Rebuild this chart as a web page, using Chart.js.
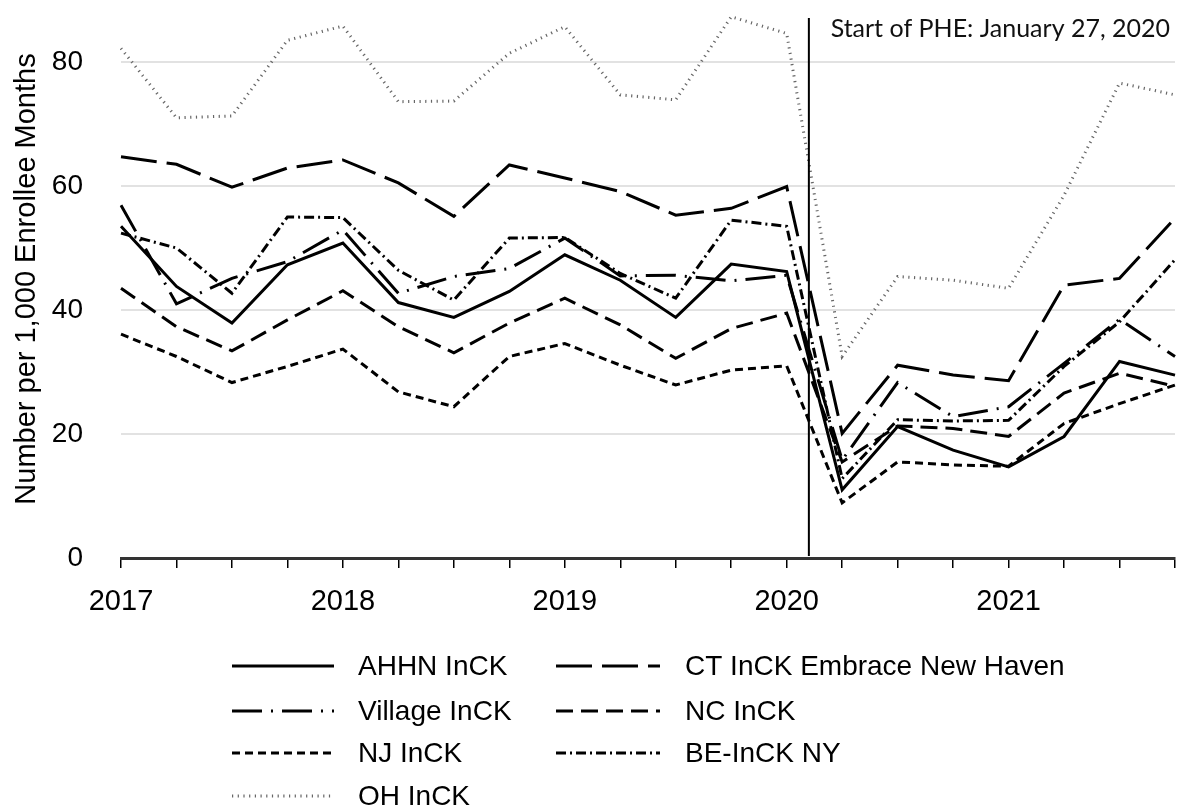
<!DOCTYPE html>
<html>
<head>
<meta charset="utf-8">
<script src="https://cdn.jsdelivr.net/npm/chart.js@4"></script>
<style>
  html, body { margin: 0; padding: 0; background: #fff; }
  #wrap { position: relative; width: 1177px; height: 809px; }
</style>
</head>
<body>
<div id="wrap"><canvas id="myChart" width="1177" height="809"></canvas></div>
<script>
// quarterly periods, 2017 Q1 .. 2021 Q4
const quarters = [
    "2017 Q1", "2017 Q2", "2017 Q3", "2017 Q4",
    "2018 Q1", "2018 Q2", "2018 Q3", "2018 Q4",
    "2019 Q1", "2019 Q2", "2019 Q3", "2019 Q4",
    "2020 Q1", "2020 Q2", "2020 Q3", "2020 Q4",
    "2021 Q1", "2021 Q2", "2021 Q3", "2021 Q4"
];

const ahhn    = [53.5, 43.8, 37.9, 47.3, 50.8, 41.2, 38.8, 43.0, 48.9, 44.8, 38.8, 47.4, 46.2, 11.0, 21.2, 17.4, 14.7, 19.6, 31.7, 29.5];
const ctNH    = [64.7, 63.5, 59.8, 62.9, 64.2, 60.5, 55.1, 63.4, 61.3, 59.1, 55.3, 56.4, 59.9, 20.1, 31.1, 29.5, 28.6, 44.0, 45.1, 54.8];
const village = [56.9, 41.0, 45.1, 47.8, 52.9, 42.7, 45.4, 46.7, 51.6, 45.5, 45.6, 44.7, 45.6, 15.8, 28.3, 22.8, 24.4, 31.4, 38.5, 32.5];
const ncInck  = [43.5, 37.3, 33.4, 38.4, 43.1, 37.3, 33.1, 37.9, 41.9, 37.6, 32.2, 37.0, 39.5, 15.5, 21.3, 20.9, 19.6, 26.6, 29.8, 27.7];
const njInck  = [36.1, 32.5, 28.3, 30.9, 33.7, 26.8, 24.4, 32.5, 34.6, 31.1, 27.9, 30.3, 31.0,  8.9, 15.5, 15.0, 14.8, 21.7, 24.9, 27.9];
const beNY    = [52.4, 50.0, 42.7, 55.0, 54.9, 46.4, 41.6, 51.6, 51.7, 45.9, 41.9, 54.5, 53.5, 12.8, 22.3, 22.1, 22.2, 30.9, 38.1, 48.1];
const ohInck  = [82.2, 71.0, 71.3, 83.5, 85.8, 73.6, 73.7, 81.4, 85.7, 74.7, 73.9, 87.3, 84.6, 32.5, 45.4, 44.8, 43.5, 58.5, 76.6, 74.7];

const yTicks = [0, 20, 40, 60, 80];

// PHE marker (position in quarter index units) and its label
const pheIndex = 12.4;
const pheLabel = "Start of PHE: January 27, 2020";

const FONT = "'Liberation Sans', Arial, sans-serif";

function series(label, data, dash, color, width) {
    return {
        label: label,
        data: data,
        borderColor: color || "#000",
        borderWidth: width || 3,
        borderDash: dash,
        borderCapStyle: "butt",
        fill: false,
        tension: 0,
        pointRadius: 0
    };
}

// vertical PHE line + label
const pheLine = {
    id: "pheLine",
    afterDatasetsDraw(chart) {
        const ctx = chart.ctx;
        const x = chart.scales.x;
        const i = Math.floor(pheIndex);
        const px = x.getPixelForValue(i) + (pheIndex - i) * (x.getPixelForValue(i + 1) - x.getPixelForValue(i));
        ctx.save();
        ctx.strokeStyle = "#000";
        ctx.lineWidth = 2;
        ctx.beginPath();
        ctx.moveTo(px, 18);
        ctx.lineTo(px, chart.chartArea.bottom - 2);
        ctx.stroke();
        ctx.fillStyle = "#111";
        ctx.font = "25px Lato, 'DejaVu Sans', sans-serif";
        ctx.textAlign = "right";
        ctx.textBaseline = "alphabetic";
        ctx.fillText(pheLabel, 1170, 37);
        ctx.restore();
    }
};

// two-column legend under the plot
const sideLegend = {
    id: "sideLegend",
    afterDraw(chart) {
        const ctx = chart.ctx;
        const cols = [{ x0: 232, x1: 334, tx: 358 }, { x0: 556, x1: 660, tx: 685 }];
        const rows = [666, 711, 753, 796];
        ctx.save();
        chart.data.datasets.forEach(function(ds, k) {
            const c = cols[k % 2];
            const y = rows[Math.floor(k / 2)];
            ctx.strokeStyle = ds.borderColor;
            ctx.lineWidth = ds.borderWidth;
            ctx.setLineDash(ds.borderDash || []);
            ctx.lineCap = "butt";
            ctx.beginPath();
            ctx.moveTo(c.x0, y);
            ctx.lineTo(c.x1, y);
            ctx.stroke();
            ctx.setLineDash([]);
            ctx.fillStyle = "#000";
            ctx.font = "28px " + FONT;
            ctx.textAlign = "left";
            ctx.textBaseline = "middle";
            ctx.fillText(ds.label, c.tx, y + 1);
        });
        ctx.restore();
    }
};

const ctx = document.getElementById("myChart");
const myChart = new Chart(ctx, {
    type: "line",
    data: {
        labels: quarters,
        datasets: [
            series("AHHN InCK", ahhn, []),
            series("CT InCK Embrace New Haven", ctNH, [36, 10]),
            series("Village InCK", village, [30, 9, 2, 9]),
            series("NC InCK", ncInck, [17, 8]),
            series("NJ InCK", njInck, [8, 5]),
            series("BE-InCK NY", beNY, [10, 4, 2, 4]),
            series("OH InCK", ohInck, [1.2, 4.5], "#666", 3)
        ]
    },
    options: {
        responsive: false,
        animation: false,
        maintainAspectRatio: false,
        layout: { padding: { top: 0, right: 2, bottom: 0, left: 0 } },
        plugins: {
            legend: { display: false },
            tooltip: { enabled: false },
            title: { display: false }
        },
        scales: {
            x: {
                type: "category",
                offset: false,
                afterFit(scale) {
                    scale.height = 809 - 558;
                    scale.paddingLeft = 0;
                    scale.paddingRight = 0;
                },
                grid: {
                    drawOnChartArea: false,
                    drawTicks: true,
                    tickLength: 10,
                    color: "#000",
                    lineWidth: 1.5
                },
                border: { display: true, color: "#333", width: 3 },
                ticks: {
                    autoSkip: false,
                    maxRotation: 0,
                    padding: 17,
                    color: "#000",
                    font: { family: FONT, size: 29 },
                    callback: function(val, i) {
                        return i % 4 === 0 ? quarters[i].slice(0, 4) : "";
                    }
                }
            },
            y: {
                min: 0,
                max: 90,
                afterFit(scale) {
                    scale.width = 121;
                    scale.paddingTop = 0;
                    scale.paddingBottom = 0;
                },
                afterBuildTicks(scale) {
                    scale.ticks = yTicks.map(function(v) { return { value: v }; });
                },
                grid: { color: "#e2e2e2", lineWidth: 2, drawTicks: false },
                border: { display: false },
                ticks: {
                    padding: 38,
                    color: "#000",
                    font: { family: FONT, size: 28 }
                },
                title: {
                    display: true,
                    text: "Number per 1,000 Enrollee Months",
                    color: "#000",
                    font: { family: FONT, size: 29 },
                    padding: { top: 10, bottom: 0 }
                }
            }
        }
    },
    plugins: [pheLine, sideLegend]
});
</script>
</body>
</html>
